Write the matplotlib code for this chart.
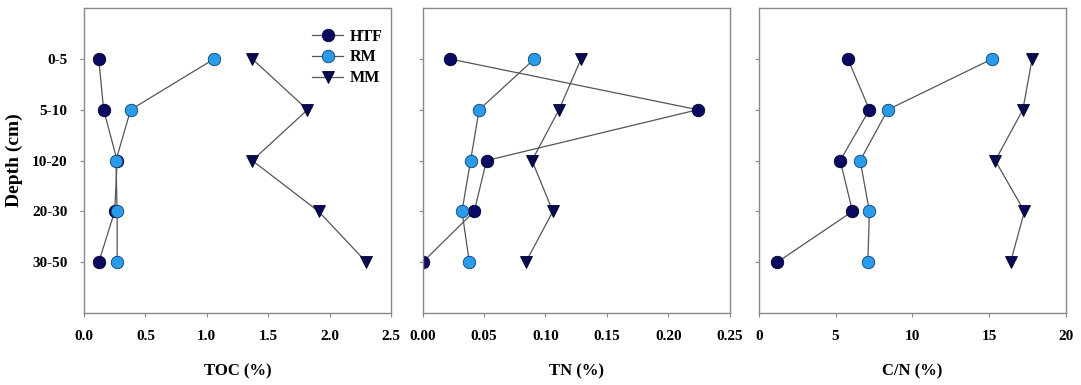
import numpy as np
import matplotlib.pyplot as plt

depths = ['0-5', '5-10', '10-20', '20-30', '30-50']

toc_htf = [0.12, 0.16, 0.27, 0.25, 0.12]
toc_rm = [1.06, 0.38, 0.26, 0.27, 0.27]
toc_mm = [1.37, 1.82, 1.37, 1.91, 2.30]

tn_htf = [0.022, 0.224, 0.052, 0.042, 0.0]
tn_rm = [0.091, 0.046, 0.039, 0.032, 0.038]
tn_mm = [0.129, 0.111, 0.089, 0.106, 0.084]

cn_htf = [5.8, 7.2, 5.3, 6.1, 1.2]
cn_rm = [15.2, 8.4, 6.6, 7.2, 7.1]
cn_mm = [17.8, 17.2, 15.4, 17.3, 16.4]

plt.rcParams['font.family'] = ['Liberation Serif', 'DejaVu Serif']
plt.rcParams['font.weight'] = 'bold'

fig = plt.figure(figsize=(10.81, 3.85), dpi=100)
lefts = [0.0777, 0.391, 0.702]
w, b, h = 0.284, 0.187, 0.792

panels = [
    (toc_htf, toc_rm, toc_mm, (0, 2.5), np.arange(0, 2.51, 0.5), '%.1f', 'TOC (%)'),
    (tn_htf, tn_rm, tn_mm, (0, 0.25), np.arange(0, 0.251, 0.05), '%.2f', 'TN (%)'),
    (cn_htf, cn_rm, cn_mm, (0, 20), np.arange(0, 21, 5), '%d', 'C/N (%)'),
]

y = np.arange(1, len(depths) + 1)
line_c = '#555555'
for i, (htf, rm, mm, xl, xt, fmt, lab) in enumerate(panels):
    ax = fig.add_axes([lefts[i], b, w, h])
    ax.plot(htf, y, '-o', color=line_c, lw=0.9, ms=9, mfc='#0a0a60', mec='#000030', mew=0.6, label='HTF')
    ax.plot(rm, y, '-o', color=line_c, lw=0.9, ms=9, mfc='#2a9be8', mec='#104070', mew=0.6, label='RM')
    ax.plot(mm, y, '-v', color=line_c, lw=0.9, ms=9, mfc='#0a0a50', mec='#000030', mew=0.6, label='MM')
    ax.set_xlim(*xl)
    ax.set_ylim(6, 0)
    ax.set_xticks(xt)
    ax.set_xticklabels([fmt % v for v in xt], fontsize=11, fontweight='bold')
    ax.set_yticks(y)
    if i == 0:
        ax.set_yticklabels(depths, fontsize=11, fontweight='bold')
        ax.set_ylabel('Depth (cm)', fontsize=14, fontweight='bold', labelpad=6)
        ax.legend(loc='upper right', frameon=False, fontsize=11.5,
                  handlelength=2.0, labelspacing=0.3, handletextpad=0.4,
                  bbox_to_anchor=(1.02, 0.98))
    else:
        ax.set_yticklabels([])
    ax.set_xlabel(lab, fontsize=12, fontweight='bold', labelpad=15)
    for s in ax.spines.values():
        s.set_color('#888888')
        s.set_linewidth(1.0)
    ax.tick_params(axis='both', direction='out', length=3, color='#888888', pad=9)

fig.savefig('out.png', dpi=100)
